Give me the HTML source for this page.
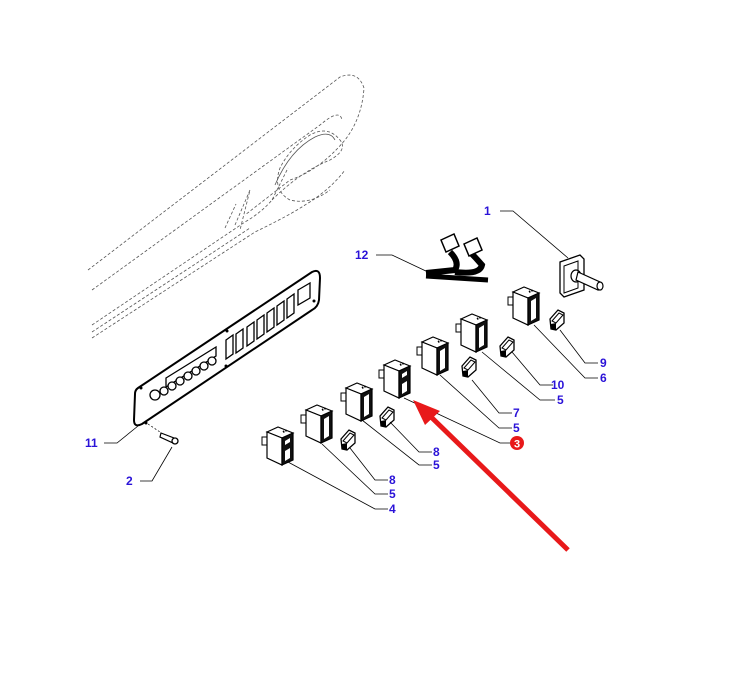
<!DOCTYPE html>
<html><head><meta charset="utf-8"><style>
html,body{margin:0;padding:0;background:#fff;}
svg{display:block}
text{font-family:"Liberation Sans",sans-serif;font-weight:bold;font-size:12px;fill:#2a12d8}
</style></head><body>
<svg width="739" height="699" viewBox="0 0 739 699" xmlns="http://www.w3.org/2000/svg">
<defs>
<g id="sw">
  <rect x="1" y="10" width="5" height="8" fill="#fff" stroke="#000" stroke-width="1"/>
  <polygon points="6,5 17,0 32,6 21,11" fill="#fff" stroke="#000" stroke-width="1.2"/>
  <polygon points="6,5 21,11 21,38 6,31" fill="#fff" stroke="#000" stroke-width="1.2"/>
  <polygon points="21,11 32,6 32,33 21,38" fill="#111" stroke="#000" stroke-width="1.2"/>
  <polygon points="24,14 29,11 29,31 24,34" fill="#fff"/>
  <line x1="22" y1="5" x2="26" y2="3" stroke="#000" stroke-width="2" stroke-dasharray="1.5 1"/>
</g>
<g id="sw2">
  <use href="#sw"/>
  <polygon points="24,18 29,15 29,21 24,24" fill="#111"/>
</g>
<g id="cap">
  <polygon points="0,9 8,0 14,3 14,13 6,20 1,19" fill="#fff" stroke="#000" stroke-width="1.3"/>
  <polygon points="2,11 9,3 13,5 6,13" fill="#fff" stroke="#000" stroke-width="1"/>
  <polygon points="1,14 6,13 6,20 1,19" fill="#000"/>
</g>
</defs>

<!-- dashed console outline -->
<g fill="none" stroke="#555" stroke-width="0.8" stroke-dasharray="3 2">
  <path d="M88,270 L340,77 Q358,70 364,88 Q362,118 345,140 Q320,170 290,180 L245,215"/>
  <path d="M92,290 L320,125 Q340,108 342,120"/>
  <path d="M92,325 L245,222 Q262,212 272,200 L288,168"/>
  <path d="M92,332 L250,228"/>
  <path d="M92,338 L255,232 Q290,215 305,205 Q330,190 345,170"/>
  <path d="M272,200 Q300,172 330,160 Q348,150 340,140 Q328,125 310,135 Q290,148 280,168 Q272,190 290,200 Q310,205 330,190"/>
  <path d="M235,225 L250,190 L240,230 M225,228 L236,204"/>
</g>
<path d="M275,185 Q290,150 315,137 Q330,130 335,140" fill="none" stroke="#555" stroke-width="0.8"/>

<!-- panel -->
<path d="M138,388 L312,272 Q320,268 320,278 L319,300 Q318,307 312,310 L142,424 Q134,428 134,420 L135,394 Q135,390 138,388 Z" fill="#fff" stroke="#000" stroke-width="2"/>
<g fill="#fff" stroke="#000" stroke-width="1.3">
  <polygon points="226,340 233,335 233,354 226,359"/>
  <polygon points="236,334 243,329 243,348 236,353"/>
  <polygon points="247,327 254,322 254,341 247,346"/>
  <polygon points="257,320 264,315 264,334 257,339"/>
  <polygon points="267,313 274,308 274,327 267,332"/>
  <polygon points="277,306 284,301 284,320 277,325"/>
  <polygon points="287,299 294,294 294,313 287,318"/>
  <polygon points="298,290 310,283 310,298 298,305"/>
  <polygon points="166,378 216,347 216,356 166,387"/>
  <circle cx="155" cy="395" r="5"/>
  <circle cx="164" cy="391" r="4"/><circle cx="172" cy="386" r="4"/><circle cx="180" cy="381" r="4"/>
  <circle cx="188" cy="376" r="4"/><circle cx="196" cy="371" r="4"/><circle cx="204" cy="366" r="4"/>
  <circle cx="212" cy="361" r="4"/>
</g>
<g fill="#000"><circle cx="141" cy="388" r="1.5"/><circle cx="146" cy="423" r="1.5"/><circle cx="227" cy="331" r="1.5"/><circle cx="226" cy="366" r="1.5"/><circle cx="314" cy="301" r="1.5"/></g>

<!-- screw -->
<line x1="148" y1="424" x2="160" y2="432" stroke="#000" stroke-width="0.7" stroke-dasharray="2 2"/>
<polygon points="161,433 174,438 173,443 160,437" fill="#fff" stroke="#000" stroke-width="1.2"/>
<circle cx="175" cy="441" r="3" fill="#fff" stroke="#000" stroke-width="1.3"/>

<!-- knob part 1 -->
<polygon points="560,262 580,255 584,259 584,290 564,297 560,293" fill="#fff" stroke="#000" stroke-width="1.3"/>
<polygon points="564,266 578,261 578,288 564,293" fill="#fff" stroke="#000" stroke-width="1"/>
<ellipse cx="576" cy="276" rx="5" ry="6" fill="#fff" stroke="#000" stroke-width="1.2"/>
<polygon points="578,272 600,282 598,290 576,280" fill="#fff" stroke="#000" stroke-width="1.2"/>
<ellipse cx="600" cy="286" rx="3" ry="4" fill="#fff" stroke="#000" stroke-width="1.2"/>

<!-- harness 12 -->
<path d="M426,273 L455,270 Q460,262 450,252 M455,272 Q480,275 482,265 Q476,258 470,252" fill="none" stroke="#000" stroke-width="6"/>
<path d="M426,276 L488,280" stroke="#000" stroke-width="5"/>
<polygon points="441,240 454,234 459,246 446,252" fill="#fff" stroke="#000" stroke-width="1.5"/>
<polygon points="464,244 477,238 482,250 469,256" fill="#fff" stroke="#000" stroke-width="1.5"/>

<!-- switches -->
<use href="#sw2" x="261" y="427"/>
<use href="#sw" x="300" y="405"/>
<use href="#sw" x="340" y="383"/>
<use href="#sw2" x="378" y="360"/>
<use href="#sw" x="416" y="337"/>
<use href="#sw" x="455" y="314"/>
<use href="#sw" x="507" y="287"/>
<use href="#cap" x="341" y="430"/>
<use href="#cap" x="380" y="407"/>
<use href="#cap" x="462" y="357"/>
<use href="#cap" x="500" y="337"/>
<use href="#cap" x="550" y="310"/>

<!-- leaders -->
<g fill="none" stroke="#000" stroke-width="0.8">
  <path d="M288,462 L375,509 L388,509"/>
  <path d="M322,444 L375,494 L388,494"/>
  <path d="M350,448 L375,480 L388,480"/>
  <path d="M362,420 L419,465 L432,465"/>
  <path d="M390,422 L419,452 L432,452"/>
  <path d="M404,398 L500,443 L510,443"/>
  <path d="M440,375 L499,428 L512,428"/>
  <path d="M472,380 L499,413 L512,413"/>
  <path d="M482,352 L540,400 L555,400"/>
  <path d="M512,352 L540,385 L553,385"/>
  <path d="M534,325 L585,378 L598,378"/>
  <path d="M560,330 L585,363 L598,363"/>
  <path d="M500,211 L513,211 L568,258"/>
  <path d="M376,255 L392,255 L428,272"/>
  <path d="M104,443 L117,443 L138,426"/>
  <path d="M140,481 L152,481 L172,447"/>
</g>

<!-- red arrow -->
<line x1="568" y1="550" x2="428" y2="414" stroke="#e8191a" stroke-width="5"/>
<polygon points="413,400 440,411 425,425" fill="#e8191a"/>
<circle cx="517" cy="443" r="7" fill="#e8191a"/>
<text x="517" y="447.5" text-anchor="middle" style="fill:#fff;font-size:11px">3</text>

<!-- labels -->
<text x="484" y="215">1</text>
<text x="355" y="259">12</text>
<text x="600" y="367">9</text>
<text x="600" y="382">6</text>
<text x="551" y="389">10</text>
<text x="557" y="404">5</text>
<text x="513" y="417">7</text>
<text x="513" y="432">5</text>
<text x="433" y="456">8</text>
<text x="433" y="469">5</text>
<text x="85" y="447">11</text>
<text x="389" y="484">8</text>
<text x="389" y="498">5</text>
<text x="126" y="485">2</text>
<text x="389" y="513">4</text>
</svg>
</body></html>
